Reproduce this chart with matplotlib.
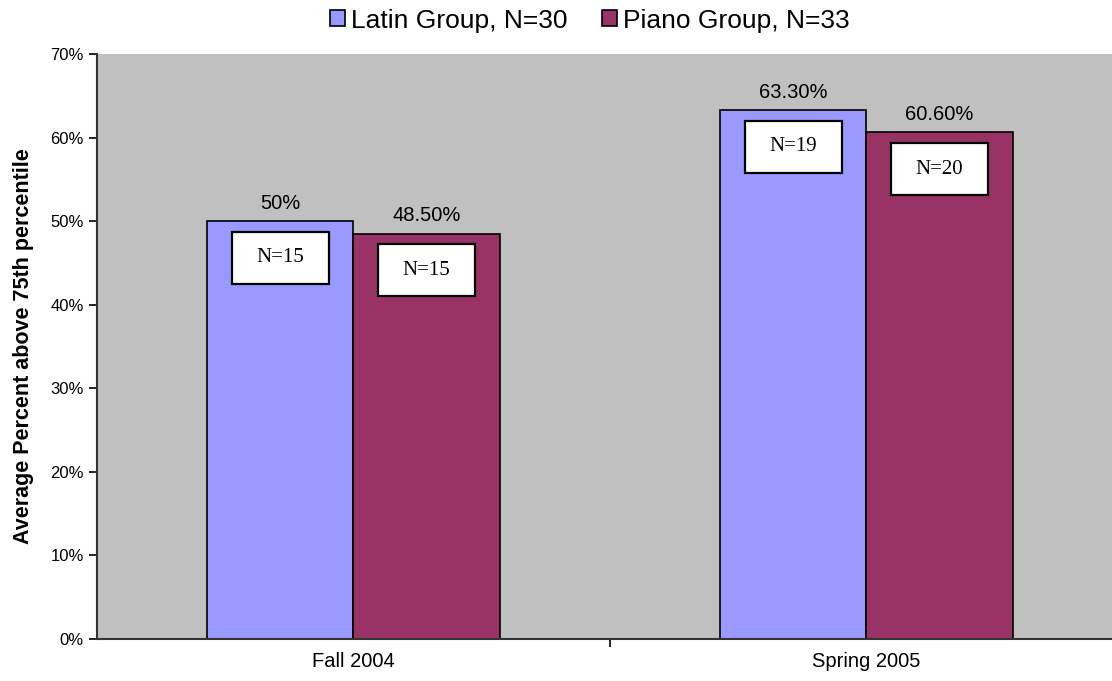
import matplotlib.pyplot as plt
from matplotlib.patches import Rectangle
import numpy as np

plt.rcParams['font.family'] = ['Liberation Sans', 'DejaVu Sans']

# data
periods = ['Fall 2004', 'Spring 2005']
latin = [50.0, 63.3]
piano = [48.5, 60.6]
latin_labels = ['50%', '63.30%']
piano_labels = ['48.50%', '60.60%']
latin_n = [15, 19]
piano_n = [15, 20]

fig = plt.figure(figsize=(11.12, 6.81), dpi=100)
# plot area runs a bit past the right edge of the picture, like the original
ax = fig.add_axes([0.0872, 0.0624, 0.9227, 0.8583])
ax.set_facecolor('#C0C0C0')

x = np.arange(len(periods))
w = 0.285
b1 = ax.bar(x - w / 2, latin, w, color='#9999FF', edgecolor='black', linewidth=1.2,
            label='Latin Group, N=30')
b2 = ax.bar(x + w / 2, piano, w, color='#993366', edgecolor='black', linewidth=1.2,
            label='Piano Group, N=33')

# value labels above bars
for bars, labels in [(b1, latin_labels), (b2, piano_labels)]:
    for rect, lab in zip(bars, labels):
        ax.text(rect.get_x() + rect.get_width() / 2, rect.get_height() + 1.0, lab,
                ha='center', va='bottom', fontsize=14.5)

# white N boxes inside bars
bw, bh = 0.189, 6.2
for bars, ns in [(b1, latin_n), (b2, piano_n)]:
    for rect, n in zip(bars, ns):
        cx = rect.get_x() + rect.get_width() / 2
        cy = rect.get_height() - 4.4
        ax.add_patch(Rectangle((cx - bw / 2, cy - bh / 2), bw, bh, facecolor='white',
                               edgecolor='black', linewidth=1.6, zorder=3))
        ax.text(cx, cy, f'N={n}', ha='center', va='center', fontsize=15,
                family='Liberation Serif', zorder=4)

ax.set_xlim(-0.5, 1.5)
ax.set_ylim(0, 70)
ax.set_yticks(range(0, 71, 10))
ax.set_yticklabels([f'{v}%' for v in range(0, 71, 10)], fontsize=12)
ax.tick_params(axis='y', direction='out', length=6, width=1.2)

ax.set_xticks(x)
ax.set_xticklabels(periods, fontsize=14.5)
ax.tick_params(axis='x', which='major', length=0, pad=10)
ax.set_xticks([0.5, 1.5], minor=True)
ax.tick_params(axis='x', which='minor', direction='out', length=6, width=1.2)

for s in ['top', 'right']:
    ax.spines[s].set_visible(False)
for s in ['left', 'bottom']:
    ax.spines[s].set_linewidth(1.5)
    ax.spines[s].set_color('#333333')

ax.set_ylabel('Average Percent above 75th percentile', fontsize=15.5, fontweight='bold',
              labelpad=12)

fig.legend(loc='upper center', bbox_to_anchor=(0.5305, 1.022), ncol=2, frameon=False,
           fontsize=19, handlelength=0.55, handleheight=0.55, handletextpad=0.25,
           columnspacing=1.3)

plt.savefig('out.png', dpi=100)
